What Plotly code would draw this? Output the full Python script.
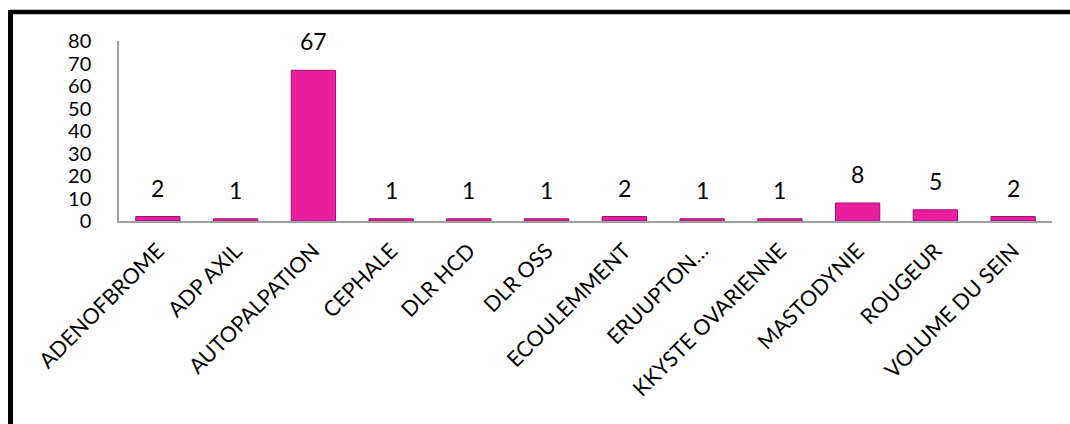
import plotly.graph_objects as go

categories = [
    "ADENOFBROME", "ADP AXIL", "AUTOPALPATION", "CEPHALE", "DLR HCD", "DLR OSS",
    "ECOULEMMENT", "ERUUPTON…", "KKYSTE OVARIENNE", "MASTODYNIE", "ROUGEUR", "VOLUME DU SEIN",
]
counts = [2, 1, 67, 1, 1, 1, 2, 1, 1, 8, 5, 2]
y_ticks = [0, 10, 20, 30, 40, 50, 60, 70, 80]

W, H = 1070, 424
L, R, T, B = 119, 18, 41, 203
PW, PH = W - L - R, H - T - B

FONT = "Lato"

def px_x(px):
    return (px - L) / PW

def px_y(py):
    return (H - B - py) / PH

fig = go.Figure()
fig.add_trace(go.Bar(
    x=categories,
    y=counts,
    marker=dict(color="#EA1E9E", line=dict(color="#A3126E", width=1)),
    width=0.57,
    hoverinfo="x+y",
))

for c, v in zip(categories, counts):
    fig.add_annotation(
        x=c, y=v, text=str(v), showarrow=False,
        yanchor="bottom", yshift=13,
        font=dict(family=FONT, size=23, color="#000000"),
    )

# frame: thick black edges on the left and top
fig.add_shape(type="line", xref="paper", yref="paper",
              x0=px_x(10.5), x1=px_x(1075), y0=px_y(12), y1=px_y(12),
              line=dict(color="#000000", width=4.5))
fig.add_shape(type="line", xref="paper", yref="paper",
              x0=px_x(10.5), x1=px_x(10.5), y0=px_y(10), y1=px_y(430),
              line=dict(color="#000000", width=5))

fig.update_layout(
    width=W, height=H,
    margin=dict(l=L, r=R, t=T, b=B, autoexpand=False),
    paper_bgcolor="#FFFFFF", plot_bgcolor="#FFFFFF",
    showlegend=False,
    bargap=0.43,
)
fig.update_xaxes(
    showline=True, linecolor="#A0A0A0", linewidth=1.5,
    showgrid=False, ticks="", tickangle=-45,
    tickfont=dict(family=FONT, size=21.5, color="#000000"),
    ticklabelstandoff=7,
)
fig.update_yaxes(
    range=[0, 80], tickvals=y_ticks,
    showline=True, linecolor="#A0A0A0", linewidth=1.5,
    showgrid=False, zeroline=False, ticks="",
    tickfont=dict(family=FONT, size=20, color="#000000"),
    ticklabelstandoff=22,
)

fig.write_html("out.html")
